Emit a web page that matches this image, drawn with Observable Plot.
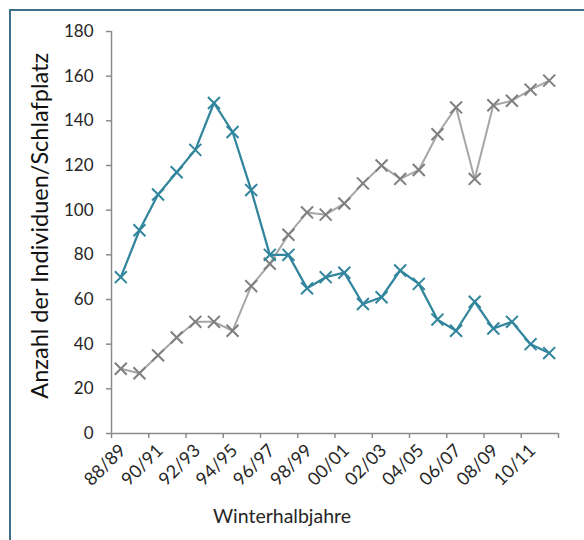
<!DOCTYPE html>
<html>
<head>
<meta charset="utf-8">
<script src="https://cdn.jsdelivr.net/npm/d3@7"></script>
<script src="https://cdn.jsdelivr.net/npm/@observablehq/plot@0.6"></script>
<style>
  html, body { margin: 0; padding: 0; background: #fff; overflow: hidden; }
  #wrap { position: relative; width: 584px; height: 540px; overflow: hidden; }
  #frame { position: absolute; left: 9px; top: 9px; width: 700px; height: 700px;
           border-left: 2px solid #3f6e89; border-top: 2px solid #3f6e89; pointer-events: none; }
</style>
</head>
<body>
<div id="wrap"><div id="chart"></div><div id="frame"></div></div>
<script>
const winters = ["88/89","89/90","90/91","91/92","92/93","93/94","94/95","95/96","96/97","97/98","98/99","99/00",
                 "00/01","01/02","02/03","03/04","04/05","05/06","06/07","07/08","08/09","09/10","10/11","11/12"];
const tealValues = [70, 91, 107, 117, 127, 148, 135, 109, 80, 80, 65, 70,
                    72, 58, 61, 73, 67, 51, 46, 59, 47, 50, 40, 36];
const grayValues = [29, 27, 35, 43, 50, 50, 46, 66, 76, 89, 99, 98,
                    103, 112, 120, 114, 118, 134, 146, 114, 147, 149, 154, 158];
const xTickLabels = ["88/89","90/91","92/93","94/95","96/97","98/99","00/01","02/03","04/05","06/07","08/09","10/11"];
const yTicks = [0, 20, 40, 60, 80, 100, 120, 140, 160, 180];
const yTitle = "Anzahl der Individuen/Schlafplatz";
const xTitle = "Winterhalbjahre";

const teal = "#31859c";
const grayLine = "#a6a6a6";
const grayMark = "#7f7f7f";
const axisColor = "#8c8c8c";
const textColor = "#262626";

const tealData = winters.map((w, i) => ({w, i, v: tealValues[i]}));
const grayData = winters.map((w, i) => ({w, i, v: grayValues[i]}));
const xPos = d => d.i + 0.5;
const boundaries = d3.range(0, winters.length + 1, 2);

const chart = Plot.plot({
  width: 584,
  height: 540,
  marginLeft: 111,
  marginRight: 26,
  marginTop: 31,
  marginBottom: 107,
  style: {fontFamily: "Lato, sans-serif", fontSize: "16px", color: textColor, background: "transparent"},
  x: {type: "linear", domain: [0, winters.length]},
  y: {domain: [0, 180]},
  marks: [
    Plot.ruleX([0], {stroke: axisColor, strokeWidth: 1.5}),
    Plot.ruleY([0], {stroke: axisColor, strokeWidth: 1.5}),
    Plot.axisY({ticks: yTicks, tickSize: 5, tickPadding: 13, stroke: axisColor, strokeWidth: 1.5, fill: textColor, fontSize: 17, label: null}),
    Plot.axisX({ticks: boundaries, tickSize: 5, tickFormat: () => "", stroke: axisColor, strokeWidth: 1.5, label: null}),
    Plot.axisX({ticks: xTickLabels.map(l => winters.indexOf(l) + 0.5), tickFormat: v => winters[Math.round(v - 0.5)],
                tickSize: 0, tickPadding: 14, tickRotate: -45, dx: 2, fill: textColor, fontSize: 18, label: null}),
    Plot.line(grayData, {x: xPos, y: "v", stroke: grayLine, strokeWidth: 2}),
    Plot.dot(grayData, {x: xPos, y: "v", symbol: "times", r: 5.5, stroke: grayMark, strokeWidth: 2}),
    Plot.line(tealData, {x: xPos, y: "v", stroke: teal, strokeWidth: 2.25}),
    Plot.dot(tealData, {x: xPos, y: "v", symbol: "times", r: 5.5, stroke: teal, strokeWidth: 2}),
    Plot.text([yTitle], {x: 0, y: 93, textAnchor: "middle", rotate: -90, dx: -71, fontSize: 23.5, fill: "#111"}),
    Plot.text([xTitle], {frameAnchor: "bottom", dx: -53, dy: 89, fontSize: 19.5, fill: textColor})
  ]
});
document.getElementById("chart").appendChild(chart);
</script>
</body>
</html>
